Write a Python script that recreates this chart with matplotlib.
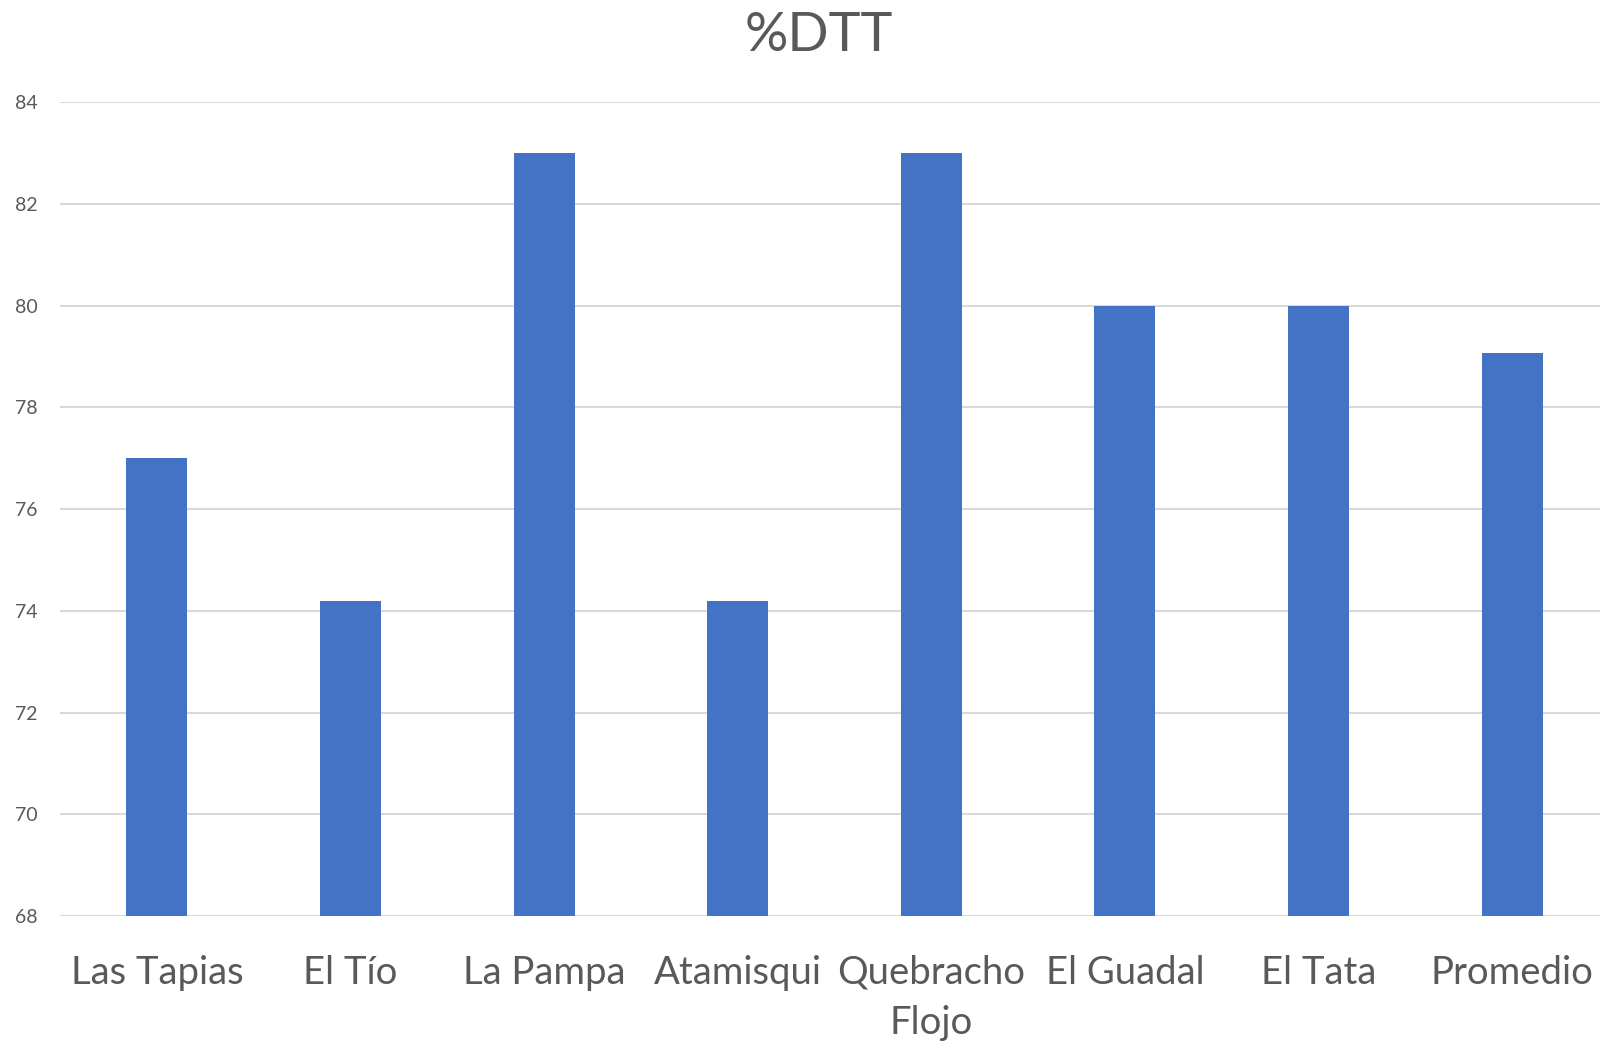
import matplotlib.pyplot as plt
import numpy as np

plt.rcParams.update({
    "font.family": ["Lato", "DejaVu Sans"],
    "text.color": "#595959",
    "xtick.color": "#595959",
    "ytick.color": "#595959",
})

# --- data ---------------------------------------------------------------------------------
sitios = ["Las Tapias", "El Tío", "La Pampa", "Atamisqui", "Quebracho\nFlojo",
          "El Guadal", "El Tata", "Promedio"]
dtt = [77.0, 74.2, 83.0, 74.2, 83.0, 80.0, 80.0, 79.06]
yticks = [68, 70, 72, 74, 76, 78, 80, 82, 84]

fig = plt.figure(figsize=(16, 10.45), dpi=100)
ax = fig.add_axes([0.0376, 0.1234, 0.968, 0.779])

x = np.arange(len(sitios))
ax.bar(x, dtt, width=0.315, color="#4472C4", zorder=3)

ax.set_xlim(-0.5, len(sitios) - 0.5)
ax.set_ylim(68, 84)
ax.set_yticks(yticks)
ax.yaxis.grid(True, color="#D9D9D9", lw=1.5, zorder=0)
ax.set_xticks(x)
ax.set_xticklabels(sitios, fontsize=27.5, linespacing=1.5)
ax.tick_params(axis="x", length=0, pad=28)
ax.tick_params(axis="y", length=0, pad=16, labelsize=14)
for s in ax.spines.values():
    s.set_visible(False)

fig.text(0.512, 0.966, "%DTT", ha="center", va="center", fontsize=39, color="#595959")

fig.savefig("out.png", dpi=100)
